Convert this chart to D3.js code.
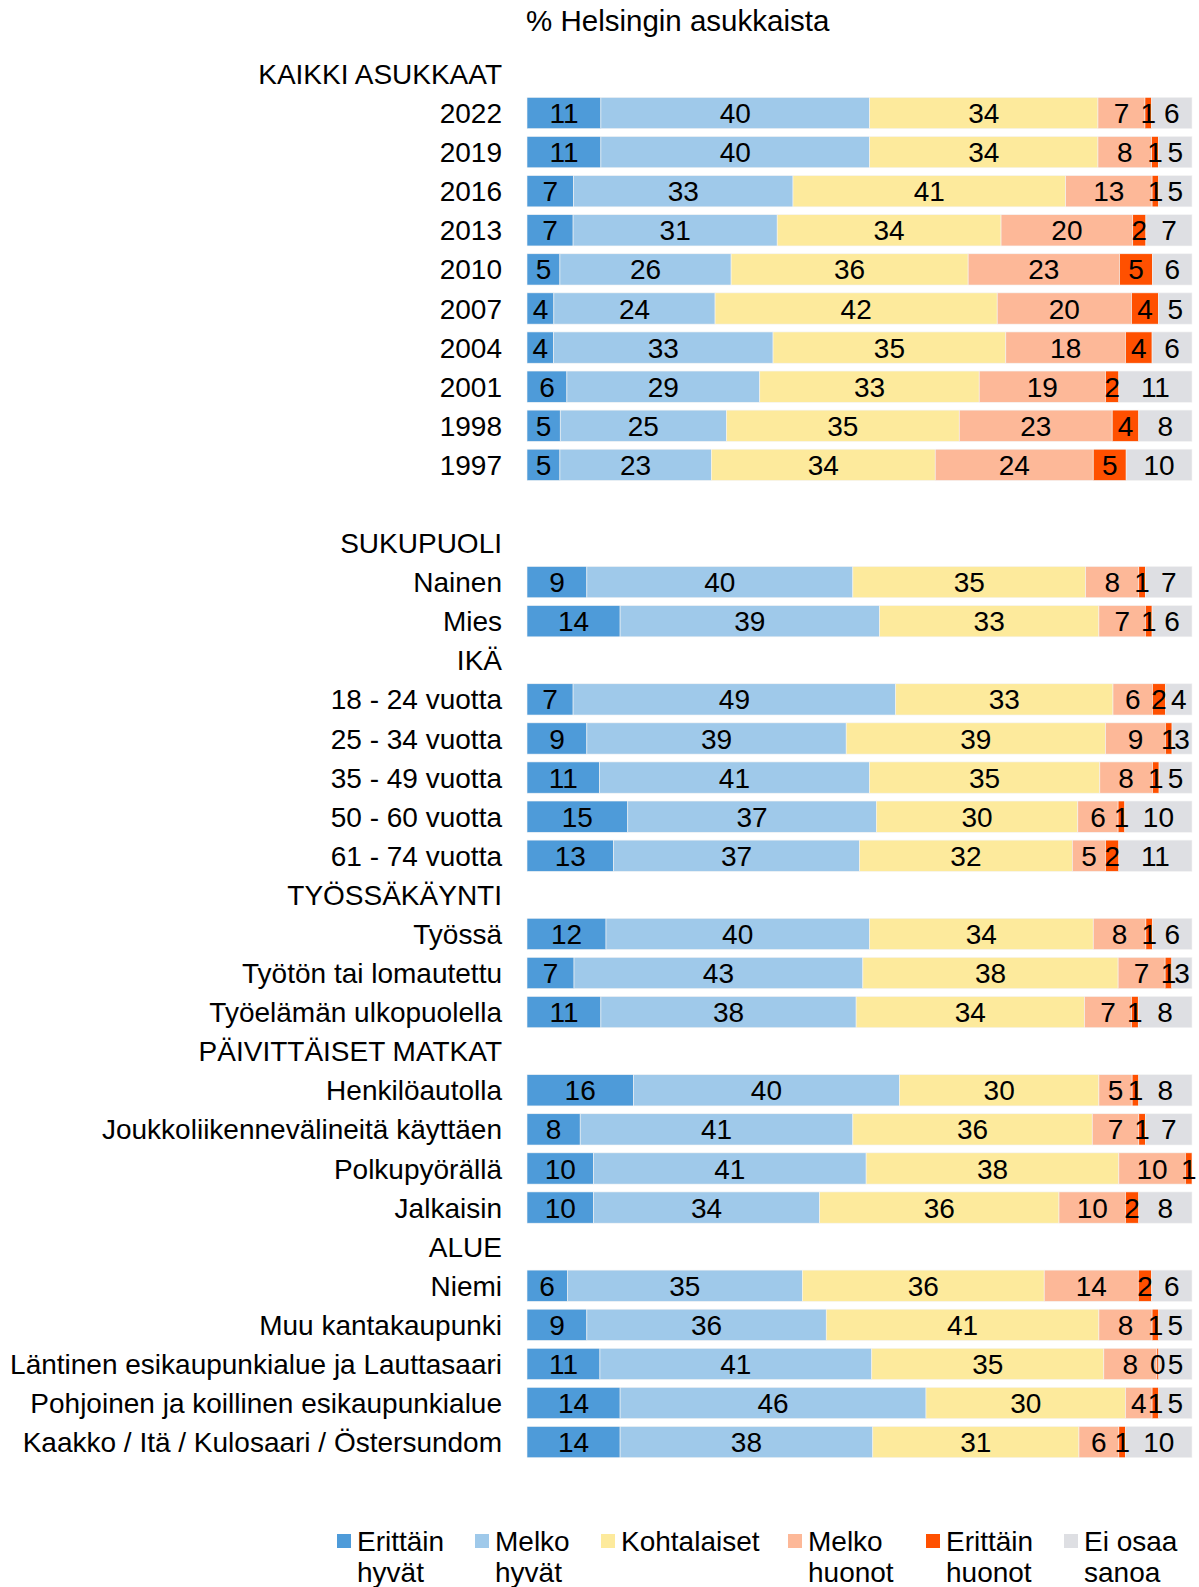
<!DOCTYPE html>
<meta charset="utf-8">
<script src="https://d3js.org/d3.v7.min.js"></script>
<style>
  body { margin: 0; background: #fff; }
  text { font-family: "Liberation Sans", Arial, sans-serif; fill: #000; }
</style>
<div id="chart"></div>
<script>

// series and colours
var seriesNames = ["Erittäin hyvät", "Melko hyvät", "Kohtalaiset", "Melko huonot", "Erittäin huonot", "Ei osaa sanoa"];
var legendLines = [["Erittäin", "hyvät"], ["Melko", "hyvät"], ["Kohtalaiset"], ["Melko", "huonot"], ["Erittäin", "huonot"], ["Ei osaa", "sanoa"]];
var colors = ["#4e9bd9", "#9fc9ea", "#fdea9c", "#fdb898", "#ff5000", "#dedfe3"];

// row order, group headers and one empty spacer row
var headers = ["KAIKKI ASUKKAAT", "SUKUPUOLI", "IKÄ", "TYÖSSÄKÄYNTI", "PÄIVITTÄISET MATKAT", "ALUE"];
var rowOrder = [
  "KAIKKI ASUKKAAT", "2022", "2019", "2016", "2013", "2010", "2007", "2004", "2001", "1998", "1997", "",
  "SUKUPUOLI", "Nainen", "Mies",
  "IKÄ", "18 - 24 vuotta", "25 - 34 vuotta", "35 - 49 vuotta", "50 - 60 vuotta", "61 - 74 vuotta",
  "TYÖSSÄKÄYNTI", "Työssä", "Työtön tai lomautettu", "Työelämän ulkopuolella",
  "PÄIVITTÄISET MATKAT", "Henkilöautolla", "Joukkoliikennevälineitä käyttäen", "Polkupyörällä", "Jalkaisin",
  "ALUE", "Niemi", "Muu kantakaupunki", "Läntinen esikaupunkialue ja Lauttasaari",
  "Pohjoinen ja koillinen esikaupunkialue", "Kaakko / Itä / Kulosaari / Östersundom"
];

var categories = [
  "2022", "2019", "2016", "2013", "2010", "2007", "2004", "2001", "1998", "1997",
  "Nainen", "Mies",
  "18 - 24 vuotta", "25 - 34 vuotta", "35 - 49 vuotta", "50 - 60 vuotta", "61 - 74 vuotta",
  "Työssä", "Työtön tai lomautettu", "Työelämän ulkopuolella",
  "Henkilöautolla", "Joukkoliikennevälineitä käyttäen", "Polkupyörällä", "Jalkaisin",
  "Niemi", "Muu kantakaupunki", "Läntinen esikaupunkialue ja Lauttasaari",
  "Pohjoinen ja koillinen esikaupunkialue", "Kaakko / Itä / Kulosaari / Östersundom"
];

// % values per series, same order as categories
var erittainHyvat  = [11, 11, 7, 7, 5, 4, 4, 6, 5, 5,   9, 14,   7, 9, 11, 15, 13,   12, 7, 11,   16, 8, 10, 10,   6, 9, 11, 14, 14];
var melkoHyvat     = [40, 40, 33, 31, 26, 24, 33, 29, 25, 23,   40, 39,   49, 39, 41, 37, 37,   40, 43, 38,   40, 41, 41, 34,   35, 36, 41, 46, 38];
var kohtalaiset    = [34, 34, 41, 34, 36, 42, 35, 33, 35, 34,   35, 33,   33, 39, 35, 30, 32,   34, 38, 34,   30, 36, 38, 36,   36, 41, 35, 30, 31];
var melkoHuonot    = [7, 8, 13, 20, 23, 20, 18, 19, 23, 24,   8, 7,   6, 9, 8, 6, 5,   8, 7, 7,   5, 7, 10, 10,   14, 8, 8, 4, 6];
var erittainHuonot = [1, 1, 1, 2, 5, 4, 4, 2, 4, 5,   1, 1,   2, 1, 1, 1, 2,   1, 1, 1,   1, 1, 1, 2,   2, 1, 0.3, 1, 1];
var eiOsaa         = [6, 5, 5, 7, 6, 5, 6, 11, 8, 10,   7, 6,   4, 3, 5, 10, 11,   6, 3, 8,   8, 7, 0, 8,   6, 5, 5, 5, 10];

var seriesValues = [erittainHyvat, melkoHyvat, kohtalaiset, melkoHuonot, erittainHuonot, eiOsaa];

var width = 1199, height = 1587;
var barLeft = 527, barRight = 1192, labelRight = 502;

var svg = d3.select("#chart").append("svg")
    .attr("width", width)
    .attr("height", height);

var y = d3.scaleBand()
    .domain(rowOrder)
    .range([54.4, 54.4 + rowOrder.length * 39.09])
    .paddingInner(0.2)
    .paddingOuter(0.1);

var x = d3.scaleLinear().domain([0, 1]).range([barLeft, barRight]);

// title
svg.append("text")
    .attr("x", 526)
    .attr("y", 20)
    .attr("dy", "0.36em")
    .style("font-size", "29.5px")
    .text("% Helsingin asukkaista");

// row labels (headers + categories)
svg.append("g").selectAll("text")
    .data(rowOrder.filter(function(d) { return d !== ""; }))
    .join("text")
      .attr("x", labelRight)
      .attr("y", function(d) { return y(d) + y.bandwidth() / 2; })
      .attr("dy", "0.36em")
      .attr("text-anchor", "end")
      .style("font-size", "28px")
      .text(function(d) { return d; });

// build stacked segments per row
var segments = [];
categories.forEach(function(cat, i) {
  var total = d3.sum(seriesValues, function(s) { return s[i]; });
  var acc = 0;
  seriesValues.forEach(function(s, k) {
    var v = s[i];
    segments.push({cat: cat, k: k, v: v, x0: acc / total, x1: (acc + v) / total});
    acc += v;
  });
});

var rows = svg.append("g");

rows.selectAll("rect")
    .data(segments.filter(function(d) { return d.v > 0; }))
    .join("rect")
      .attr("x", function(d) { return x(d.x0); })
      .attr("y", function(d) { return y(d.cat); })
      .attr("width", function(d) { return x(d.x1) - x(d.x0); })
      .attr("height", y.bandwidth())
      .attr("fill", function(d) { return colors[d.k]; })
      .attr("stroke", "#f4f4f4")
      .attr("stroke-width", 0.6);

rows.selectAll("text")
    .data(segments.filter(function(d) { return d.v > 0; }))
    .join("text")
      .attr("x", function(d) { return (x(d.x0) + x(d.x1)) / 2; })
      .attr("y", function(d) { return y(d.cat) + y.bandwidth() / 2; })
      .attr("dy", "0.36em")
      .attr("text-anchor", "middle")
      .style("font-size", "28px")
      .text(function(d) { return Math.round(d.v); });

// legend
var legendX = [337, 475, 601, 788, 926, 1064];
var legend = svg.append("g").selectAll("g")
    .data(seriesNames)
    .join("g")
      .attr("transform", function(d, i) { return "translate(" + legendX[i] + ",0)"; });

legend.append("rect")
    .attr("x", 0)
    .attr("y", 1534)
    .attr("width", 14)
    .attr("height", 14)
    .attr("fill", function(d, i) { return colors[i]; });

legend.each(function(d, i) {
  d3.select(this).selectAll("text")
    .data(legendLines[i])
    .join("text")
      .attr("x", 20)
      .attr("y", function(t, j) { return 1541 + j * 31; })
      .attr("dy", "0.36em")
      .style("font-size", "28px")
      .text(function(t) { return t; });
});

</script>
